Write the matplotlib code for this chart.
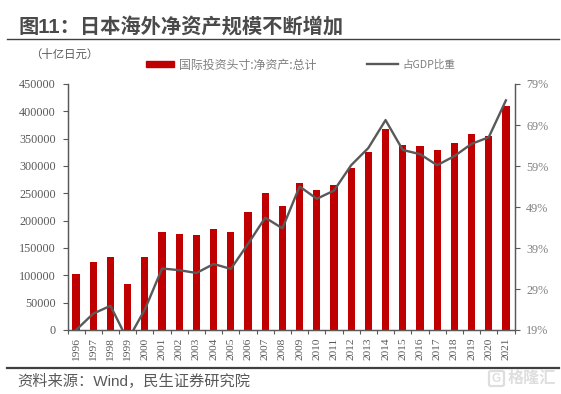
import matplotlib
matplotlib.use("Agg")
import matplotlib.pyplot as plt
from matplotlib.lines import Line2D
from matplotlib.patches import Patch, FancyBboxPatch

plt.rcParams['font.family'] = ['Noto Sans CJK SC', 'DejaVu Sans']

years = [str(y) for y in [1996, 1997, 1998, 1999, 2000, 2001, 2002, 2003, 2004, 2005, 2006, 2007, 2008,
                          2009, 2010, 2011, 2012, 2013, 2014, 2015, 2016, 2017, 2018, 2019, 2020, 2021]]
net_assets = [103000, 125000, 134000, 84000, 133000, 179000, 175000, 173000, 185000, 180000, 216000,
              250000, 226000, 268000, 256000, 266000, 297000, 326000, 367000, 339000, 337000, 329000,
              342000, 358000, 355000, 410000]
gdp_share = [19, 23, 24.9, 16.5, 24, 34, 33.6, 32.9, 35.1, 33.9, 40, 46.4, 43.8,
             54, 51, 53, 59.2, 63.4, 70.2, 62.9, 61.9, 59.2, 61.4, 64.4, 66, 75]
left_ticks = [0, 50000, 100000, 150000, 200000, 250000, 300000, 350000, 400000, 450000]
right_ticks = [19, 29, 39, 49, 59, 69, 79]
title = "图11：日本海外净资产规模不断增加"
source = "资料来源：Wind，民生证券研究院"
unit = "（十亿日元）"
bar_label = "国际投资头寸:净资产:总计"
line_label = "占GDP比重"

W, H = 561, 394
RED, GREY, TXT = "#c00000", "#595959", "#595959"
fig = plt.figure(figsize=(W / 100, H / 100), dpi=100)
ax = fig.add_axes([67.5 / W, 1 - 330 / H, 447 / W, 246 / H])
pos = list(range(len(years)))
ax.bar(pos, net_assets, width=0.42, color=RED, zorder=2)
ax.set_xlim(-0.5, len(years) - 0.5)
ax.set_ylim(0, 450000)
ax.set_yticks(left_ticks)
ax.set_xticks([p - 0.5 for p in pos] + [len(years) - 0.5])
ax.set_xticklabels([])
ax.set_xticks(pos, minor=True)
ax.set_xticklabels(years, minor=True, rotation=90, family='Liberation Serif', fontsize=8.2, color=TXT)
ax.tick_params(axis='x', which='minor', length=0, pad=5.5)
ax.tick_params(axis='x', which='major', length=3, width=0.8, color=GREY)
ax.tick_params(axis='y', length=3.5, width=0.8, color=GREY, pad=5)
for l in ax.get_yticklabels():
    l.set_family('Liberation Serif'); l.set_fontsize(8.7); l.set_color(TXT)
ax.spines['top'].set_visible(False)
for s in ('left', 'right', 'bottom'):
    ax.spines[s].set_color(GREY); ax.spines[s].set_linewidth(0.9)

ax2 = ax.twinx()
ax2.plot(pos, gdp_share, color=GREY, lw=1.7, zorder=3)
ax2.set_ylim(19, 79)
ax2.set_yticks(right_ticks)
ax2.set_yticklabels([f"{v}%" for v in right_ticks], family='Liberation Serif', fontsize=8.7, color="#7f7f7f")
ax2.tick_params(axis='y', length=3.5, width=0.8, color=GREY, pad=5)
ax2.spines['top'].set_visible(False)
for s in ('left', 'right', 'bottom'):
    ax2.spines[s].set_color(GREY); ax2.spines[s].set_linewidth(0.9)

def fx(x): return x / W
def fy(y): return 1 - y / H

fig.text(fx(18), fy(27), title, fontsize=14.6, fontweight='bold', color="#4a4a4a", va='center', ha='left',
         family=['Liberation Sans', 'Noto Sans CJK SC'])
fig.add_artist(Line2D([fx(7), fx(559)], [fy(38.7), fy(38.7)], color="#404040", lw=1.0))
fig.add_artist(Line2D([fx(7), fx(559)], [fy(368), fy(368)], color="#404040", lw=1.6))
fig.text(fx(30), fy(54), unit, fontsize=8.2, color=TXT, va='center', ha='left')
fig.text(fx(17.5), fy(381.7), source, fontsize=11, color=TXT, va='center', ha='left',
         family=['Liberation Sans', 'Noto Sans CJK SC'])
fig.add_artist(FancyBboxPatch((fx(489), fy(386)), 15 / W, 15 / H, boxstyle="round,pad=0,rounding_size=0.004",
                              transform=fig.transFigure, fc="none", ec="#dedede", lw=1.6))
fig.text(fx(496.5), fy(378.5), "G", fontsize=8.5, color="#dedede", va='center', ha='center', fontweight='bold',
         family='Liberation Sans')
fig.text(fx(508), fy(378), "格隆汇", fontsize=11.6, color="#dedede", va='center', ha='left', fontweight='bold')

fig.legend([Patch(color=RED)], [bar_label], loc='center left', bbox_to_anchor=(fx(146), fy(65)),
           frameon=False, fontsize=8.6, labelcolor="#7f7f7f", handlelength=2.35, handleheight=0.42,
           handletextpad=0.42, borderpad=0, borderaxespad=0)
fig.legend([Line2D([0], [0], color=GREY, lw=1.7)], [line_label], loc='center left',
           bbox_to_anchor=(fx(367), fy(65)), frameon=False, fontsize=7.6, labelcolor="#7f7f7f",
           handlelength=2.94, handletextpad=0.38, borderpad=0, borderaxespad=0)

fig.savefig("out.png", dpi=100)
